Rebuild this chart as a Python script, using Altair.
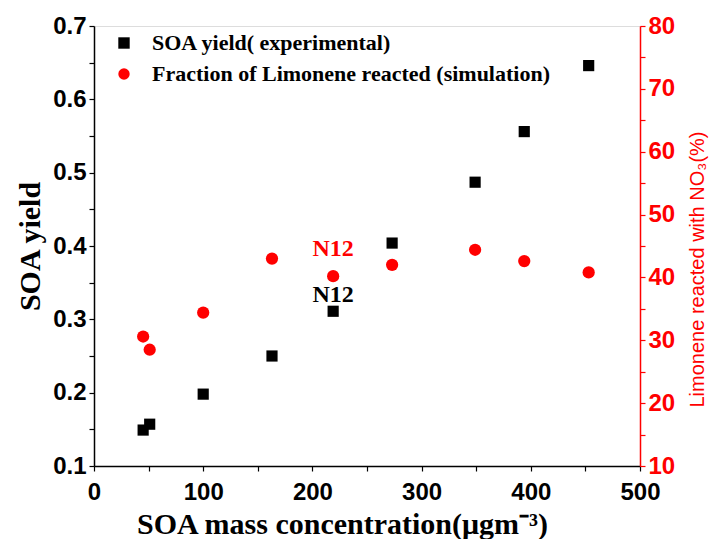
import altair as alt
import pandas as pd

# SOA mass concentration (ug m-3)
mass = [45, 51, 100, 163, 219, 273, 349, 394, 453]
# SOA yield (experimental)
soa_yield = [0.149, 0.157, 0.198, 0.250, 0.311, 0.404, 0.487, 0.556, 0.646]
# Fraction of limonene reacted with NO3 (%) (simulation)
frac_mass = [45, 51, 100, 163, 219, 273, 349, 394, 453]
frac_reacted = [30.6, 28.5, 34.4, 43.0, 40.2, 42.0, 44.4, 42.6, 40.8]

series_names = ["SOA yield( experimental)", "Fraction of Limonene reacted (simulation)"]
series_colors = ["#000000", "#ff0000"]
series_shapes = ["square", "circle"]

label_text = ["N12"]
label_x = [219]
label_yield = [0.311]
label_frac = [40.2]

df_y = pd.DataFrame({"x": mass, "y": soa_yield, "series": series_names[0]})
df_f = pd.DataFrame({"x": frac_mass, "y": frac_reacted, "series": series_names[1]})
df_ly = pd.DataFrame({"x": label_x, "y": label_yield, "t": label_text})
df_lf = pd.DataFrame({"x": label_x, "y": label_frac, "t": label_text})

SANS = "Liberation Sans"
SERIF = "Liberation Serif"

x_enc = alt.X(
    "x:Q",
    scale=alt.Scale(domain=[0, 500], nice=False, zero=False),
    axis=alt.Axis(
        values=list(range(0, 501, 50)),
        labelExpr="datum.value % 100 == 0 ? datum.label : ''",
        title="SOA mass concentration(μgm⁻³)",
        titleFont=SERIF, titleFontSize=30, titleFontWeight="bold", titleColor="black",
        titleX=248, titleY=58, titleBaseline="middle",
        labelFont=SANS, labelFontSize=24, labelFontWeight="bold", labelColor="black",
        labelPadding=9, tickSize=5, tickColor="black", domainColor="black",
        domainWidth=1.5, tickWidth=1.2, grid=False, labelFlush=False,
    ),
)

left_axis = alt.Axis(
    values=[round(0.1 + 0.05 * i, 2) for i in range(13)],
    labelExpr="abs(round(datum.value*100) % 10) < 0.5 ? format(datum.value, '.1f') : ''",
    title="SOA yield", titleFont=SERIF, titleFontSize=30, titleFontWeight="bold",
    titleColor="black", titleX=-64, titleY=220, titleBaseline="middle", titleAngle=270,
    labelFont=SANS, labelFontSize=24, labelFontWeight="bold", labelColor="black",
    tickSize=5, tickColor="black", domainColor="black", domainWidth=1.5, tickWidth=1.2,
    grid=False, labelFlush=False, labelPadding=3,
)
right_axis = alt.Axis(
    orient="right",
    values=list(range(10, 81, 5)),
    labelExpr="datum.value % 10 == 0 ? datum.label : ''",
    title="Limonene reacted with NO₃(%)", titleFont=SANS, titleFontSize=20,
    titleFontWeight="normal", titleColor="#ff0000", titleAngle=270,
    titleX=57, titleY=243, titleBaseline="middle",
    labelFont=SANS, labelFontSize=24, labelFontWeight="bold", labelColor="#ff0000",
    tickSize=5, tickColor="#ff0000", domainColor="#ff0000", domainWidth=1.5, tickWidth=1.2,
    grid=False, labelFlush=False, labelPadding=3,
)

legend = alt.Legend(
    title=None, orient="none", legendX=19, legendY=6,
    labelFont=SERIF, labelFontSize=22, labelFontWeight="bold", labelColor="black",
    labelOffset=17, labelLimit=1000, rowPadding=9, symbolSize=130, symbolStrokeWidth=0,
)
color_enc = alt.Color("series:N", scale=alt.Scale(domain=series_names, range=series_colors), legend=legend)
shape_enc = alt.Shape("series:N", scale=alt.Scale(domain=series_names, range=series_shapes), legend=legend)

y_left_scale = alt.Scale(domain=[0.1, 0.7], nice=False, zero=False)
y_right_scale = alt.Scale(domain=[10, 80], nice=False, zero=False)

squares = alt.Chart(df_y).mark_point(filled=True, opacity=1, size=125).encode(
    x=x_enc, y=alt.Y("y:Q", scale=y_left_scale, axis=left_axis), color=color_enc, shape=shape_enc
)
black_lbl = alt.Chart(df_ly).mark_text(
    font=SERIF, fontSize=24, fontWeight="bold", color="black", dy=-16, baseline="middle"
).encode(x=alt.X("x:Q"), y=alt.Y("y:Q", scale=y_left_scale, axis=left_axis), text="t:N")

circles = alt.Chart(df_f).mark_point(filled=True, opacity=1, size=150).encode(
    x=alt.X("x:Q"), y=alt.Y("y:Q", scale=y_right_scale, axis=right_axis), color=color_enc, shape=shape_enc
)
red_lbl = alt.Chart(df_lf).mark_text(
    font=SERIF, fontSize=24, fontWeight="bold", color="#ff0000", dy=-27, baseline="middle"
).encode(x=alt.X("x:Q"), y=alt.Y("y:Q", scale=y_right_scale, axis=right_axis), text="t:N")

left = alt.layer(squares, black_lbl)
right = alt.layer(circles, red_lbl)

chart = alt.layer(left, right).resolve_scale(y="independent").properties(
    width=546, height=440,
    autosize=alt.AutoSizeParams(type="none"),
    padding={"left": 94, "top": 26, "right": 71, "bottom": 73},
).configure_view(stroke=None).configure(background="white")

chart.save("out.html", embed_options={"renderer": "svg", "actions": False})
